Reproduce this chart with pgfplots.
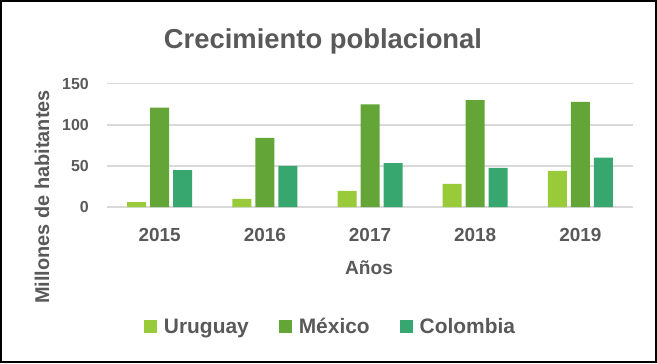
\documentclass[border=0pt]{standalone}
\usepackage{pgfplots}
\pgfplotsset{compat=1.18}
\usepackage{fontspec}
\setmainfont{Liberation Sans}
\definecolor{txt}{HTML}{595959}
\definecolor{gridc}{HTML}{D9D9D9}
\definecolor{uru}{HTML}{99CA3A}
\definecolor{mex}{HTML}{63A537}
\definecolor{col}{HTML}{37A76F}
\begin{document}
\begin{tikzpicture}[x=1bp,y=1bp]
\draw[line width=2bp] (1,1) rectangle (656,362);
\begin{axis}[
  at={(107bp,156bp)}, anchor=south west,
  scale only axis, width=526bp, height=123.3bp,
  ybar=4bp, bar width=19bp,
  xmin=-0.5, xmax=4.5, ymin=0, ymax=150,
  enlarge y limits=false,
  xtick={0,1,2,3,4}, xticklabels={2015,2016,2017,2018,2019},
  ytick={0,50,100,150},
  axis line style={draw=none},
  major tick length=0pt,
  xtick style={draw=none}, ytick style={draw=none},
  xmajorgrids=false,
  ymajorgrids=true, major grid style={draw=gridc, line width=1.5bp},
  /pgf/number format/assume math mode=true,
  xticklabel style={anchor=base, yshift=-34bp, font=\fontsize{19}{22}\selectfont\bfseries, text=txt},
  yticklabel style={anchor=east, inner sep=0pt, xshift=-18bp, font=\fontsize{16}{19}\selectfont\bfseries, text=txt},
  legend columns=3,
  legend style={draw=none, fill=none, at={(0.423,-0.973)}, anchor=center,
    font=\fontsize{21}{24}\selectfont\bfseries, text=txt,
    nodes={inner sep=0pt},
    /tikz/every odd column/.append style={column sep=7bp},
    /tikz/every even column/.append style={column sep=30bp}},
  legend image code/.code={\fill[#1] (0bp,-6.5bp) rectangle (13bp,6.5bp);},
]
\addplot[fill=uru, draw=none] coordinates {(0,6) (1,10) (2,19.5) (3,28) (4,44)};
\addplot[fill=mex, draw=none] coordinates {(0,121) (1,84) (2,125) (3,130) (4,128)};
\addplot[fill=col, draw=none] coordinates {(0,45) (1,50) (2,53.5) (3,47.5) (4,60)};
\legend{Uruguay, México, Colombia}
\end{axis}
\node[text=txt, font=\fontsize{27.5}{33}\selectfont\bfseries] at (323,322) {Crecimiento poblacional};
\node[text=txt, font=\fontsize{20}{24}\selectfont\bfseries, rotate=90] at (42,166) {Millones de habitantes};
\node[text=txt, font=\fontsize{19.2}{23}\selectfont\bfseries] at (369,95) {Años};
\end{tikzpicture}
\end{document}
